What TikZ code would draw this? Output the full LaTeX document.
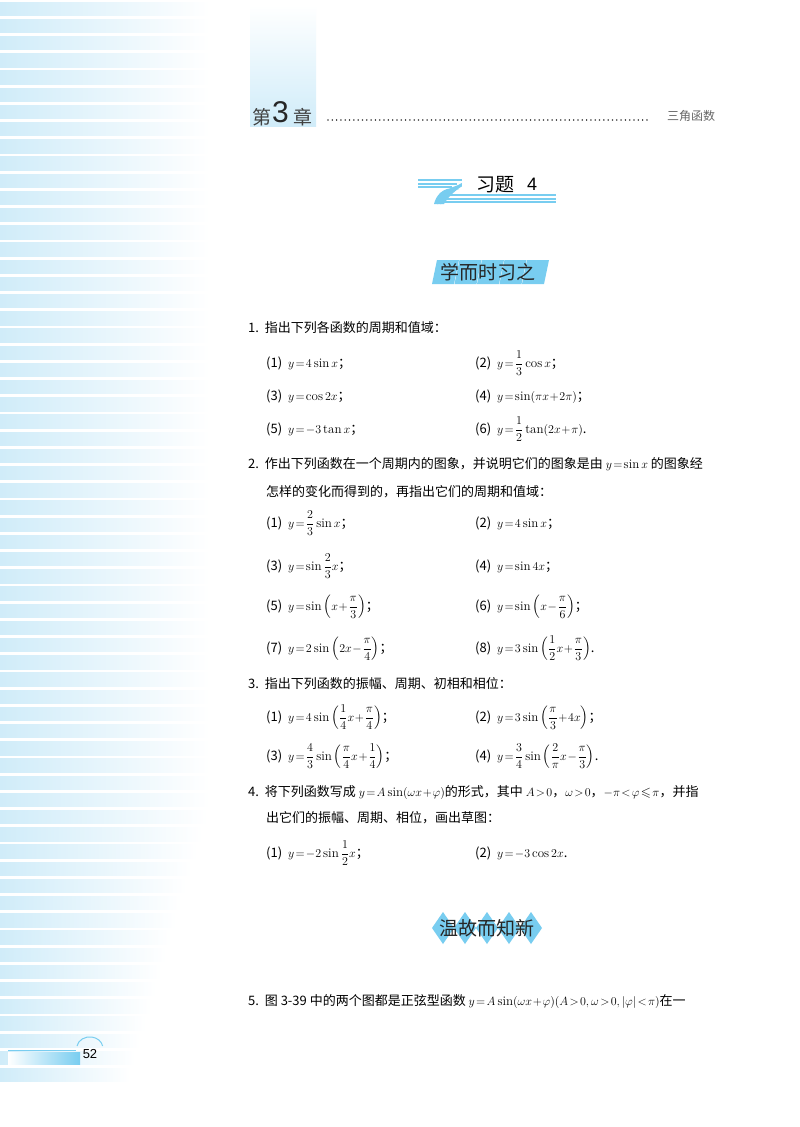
\documentclass[tikz,border=0pt]{standalone}
\usepackage{fontspec}
\usepackage{amsmath,amssymb}
\newfontfamily\cjk{Noto Sans CJK SC}
\begin{document}
\begin{tikzpicture}[x=1pt,y=-1pt,
  t/.style={anchor=base west,inner sep=0pt,font=\cjk\fontsize{13}{15}\selectfont},
  sec/.style={inner sep=0pt,font=\cjk\fontsize{19}{20}\selectfont,text=black!85}]
\definecolor{lb}{RGB}{208,236,249}
\definecolor{mb}{RGB}{120,205,240}
\useasboundingbox (0,0) rectangle (800,1127);
\fill[white] (0,0) rectangle (800,1127);
% left stripes
\foreach \i in {0,...,62}{
  \pgfmathsetmacro{\yy}{\i*17.2}
  \pgfmathsetmacro{\ww}{\yy<800 ? 210 : 210-(\yy-800)*0.3}
  \shade[left color=lb,right color=white] (0,\yy+2) rectangle (\ww,\yy+15.5);
}
% header
\shade[top color=white,bottom color=lb] (250,5) rectangle (316,126);
\node[anchor=base west,inner sep=0pt,font=\cjk\fontsize{19}{19}\selectfont,text=black!75] (ch) at (252,124) {第};
\node[anchor=base west,inner sep=0pt,font=\fontspec{Liberation Sans}\fontsize{30}{30}\selectfont,text=black!85] (n3) at (272,122) {3};
\node[anchor=base west,inner sep=0pt,font=\cjk\fontsize{19}{19}\selectfont,text=black!75] (zh) at (293,124) {章};
\draw[line width=1.6pt,dash pattern=on 0.01pt off 4.3pt,line cap=round,black!75] (328,120) -- (650,120);
\node[anchor=base west,inner sep=0pt,font=\cjk\fontsize{12}{12}\selectfont,text=black!60] (sj) at (667,120) {三角函数};
% title decoration
\foreach \k in {0,1,2}{
 \fill[mb] (418,179+\k*3.6) rectangle (462-\k*5,181+\k*3.6);
 \fill[mb] (466-\k*5,181+\k*3.6) .. controls (452-\k*5,187) and (444-\k*4,196) .. (440-\k*3,204) -- (444-\k*3,204) .. controls (448-\k*4,197) and (456-\k*5,189) .. (469-\k*5,182+\k*3.6) -- cycle;
 \fill[mb] (446-\k*3,194+\k*3.6) rectangle (556,196+\k*3.6);
}
\fill[white] (462,176) rectangle (545,193);
\node[anchor=base west,inner sep=0pt,font=\cjk\fontsize{19}{19}\selectfont] (xt) at (476,191) {习题};
\node[anchor=base west,inner sep=0pt,font=\fontspec{Liberation Sans}\fontsize{18}{18}\selectfont] (x4) at (527,190) {4};
% section 1
\foreach \k in {0,...,4}{
 \fill[mb] (437+\k*22.5,260) -- (459+\k*22.5,260) -- (454+\k*22.5,284) -- (432+\k*22.5,284) -- cycle;
}
\node[sec] (s1) at (488,272) {学而时习之};
% items
\node[t] (q1) at (248,332) {1.\ \ 指出下列各函数的周期和值域：};
\node[t] (a1) at (266,367) {(1)\ \ $y\!=\!4\sin x$；};
\node[t] (a2) at (475,367) {(2)\ \ $y\!=\!\dfrac{1}{3}\cos x$；};
\node[t] (a3) at (266,400) {(3)\ \ $y\!=\!\cos 2x$；};
\node[t] (a4) at (475,400) {(4)\ \ $y\!=\!\sin(\pi x\!+\!2\pi)$；};
\node[t] (a5) at (266,433) {(5)\ \ $y\!=\!-3\tan x$；};
\node[t] (a6) at (475,433) {(6)\ \ $y\!=\!\dfrac{1}{2}\tan(2x\!+\!\pi)$.};
\node[t] (q2) at (248,468) {2.\ \ 作出下列函数在一个周期内的图象，并说明它们的图象是由 $y\!=\!\sin x$ 的图象经};
\node[t] (q2b) at (266,496) {怎样的变化而得到的，再指出它们的周期和值域：};
\node[t] (b1) at (266,527) {(1)\ \ $y\!=\!\dfrac{2}{3}\sin x$；};
\node[t] (b2) at (475,527) {(2)\ \ $y\!=\!4\sin x$；};
\node[t] (b3) at (266,570) {(3)\ \ $y\!=\!\sin \dfrac{2}{3}x$；};
\node[t] (b4) at (475,570) {(4)\ \ $y\!=\!\sin 4x$；};
\node[t] (b5) at (266,610) {(5)\ \ $y\!=\!\sin\left(x\!+\!\dfrac{\pi}{3}\right)$；};
\node[t] (b6) at (475,610) {(6)\ \ $y\!=\!\sin\left(x\!-\!\dfrac{\pi}{6}\right)$；};
\node[t] (b7) at (266,652) {(7)\ \ $y\!=\!2\sin\left(2x\!-\!\dfrac{\pi}{4}\right)$；};
\node[t] (b8) at (475,652) {(8)\ \ $y\!=\!3\sin\left(\dfrac{1}{2}x\!+\!\dfrac{\pi}{3}\right)$.};
\node[t] (q3) at (248,688) {3.\ \ 指出下列函数的振幅、周期、初相和相位：};
\node[t] (c1) at (266,721) {(1)\ \ $y\!=\!4\sin\left(\dfrac{1}{4}x\!+\!\dfrac{\pi}{4}\right)$；};
\node[t] (c2) at (475,721) {(2)\ \ $y\!=\!3\sin\left(\dfrac{\pi}{3}\!+\!4x\right)$；};
\node[t] (c3) at (266,760) {(3)\ \ $y\!=\!\dfrac{4}{3}\sin\left(\dfrac{\pi}{4}x\!+\!\dfrac{1}{4}\right)$；};
\node[t] (c4) at (475,760) {(4)\ \ $y\!=\!\dfrac{3}{4}\sin\left(\dfrac{2}{\pi}x\!-\!\dfrac{\pi}{3}\right)$.};
\node[t] (q4) at (248,796) {4.\ \ 将下列函数写成 $y\!=\!A\sin(\omega x\!+\!\varphi)$的形式，其中 $A\!>\!0$，$\omega\!>\!0$，$-\pi\!<\!\varphi\!\leqslant\!\pi$，并指};
\node[t] (q4b) at (266,822) {出它们的振幅、周期、相位，画出草图：};
\node[t] (d1) at (266,857) {(1)\ \ $y\!=\!-2\sin\dfrac{1}{2}x$；};
\node[t] (d2) at (475,857) {(2)\ \ $y\!=\!-3\cos 2x$.};
% section 2
\foreach \k in {0,...,4}{
 \fill[mb] (443+\k*22,912) -- (454+\k*22,928) -- (443+\k*22,944) -- (432+\k*22,928) -- cycle;
}
\node[sec] (s2) at (487,928) {温故而知新};
\node[t] (q5) at (248,1005) {5.\ \ 图 3-39 中的两个图都是正弦型函数 $y\!=\!A\sin(\omega x\!+\!\varphi)(A\!>\!0,\omega\!>\!0,|\varphi|\!<\!\pi)$在一};
% page number
\shade[left color=white,right color=mb] (8,1052) rectangle (80,1064);
\draw[mb,line width=0.8pt] (8,1050) -- (76,1050);
\draw[mb,line width=1pt] (77,1046) arc (190:350:13 and 11);
\node[anchor=base,inner sep=0pt,font=\fontspec{Liberation Sans}\fontsize{13}{13}\selectfont] (pg) at (90,1058) {52};
\end{tikzpicture}
\end{document}
